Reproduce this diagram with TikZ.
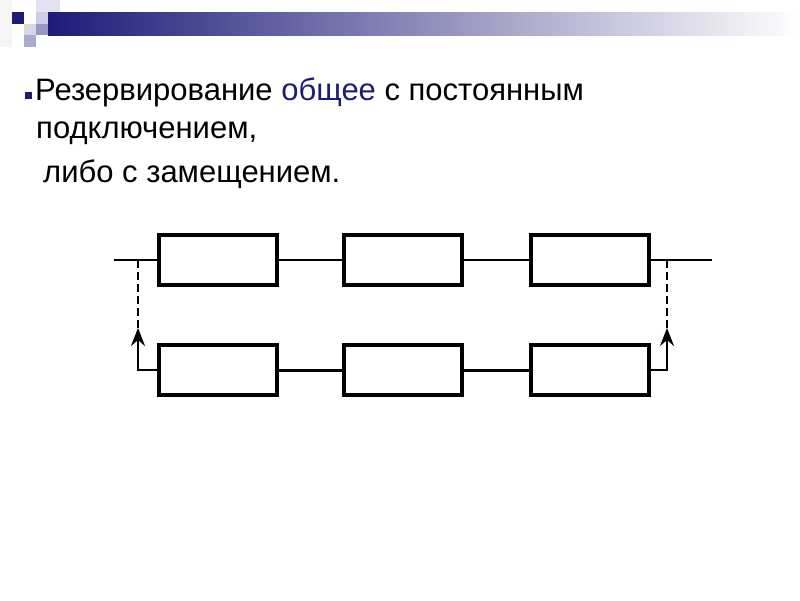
\documentclass[tikz,border=0pt]{standalone}
\usepackage{fontspec}
\setmainfont{Liberation Sans}
\usetikzlibrary{arrows.meta}

\definecolor{navy}{RGB}{28,28,120}
\definecolor{lilac}{RGB}{205,205,228}
\definecolor{lilacdark}{RGB}{150,150,196}

\begin{document}
\begin{tikzpicture}[
	x=1pt, y=-1pt,
	unit/.style={
		draw, line width=3.8pt,
		minimum width=118pt, minimum height=50pt,
		inner sep=0pt
	},
	thin line/.style={line width=1.8pt},
	bold line/.style={line width=3pt},
	back/.style={line width=2.4pt, dash pattern=on 8pt off 4pt},
	arr/.style={-{Stealth[length=18pt, width=14pt, inset=6pt]}, line width=2.2pt},
	txt/.style={anchor=base west, font=\fontsize{31}{36}\selectfont, inner sep=0pt}
]
\useasboundingbox (0,0) rectangle (800,600);

% title bar
\shade[left color=navy, right color=white] (48,12) rectangle (800,35);
\fill[black!4] (0,0) rectangle (12,47);
\fill[navy] (12,12) rectangle (24,24);
\fill[lilac!60] (36,0) rectangle (60,12);
\fill[lilac] (36,12) rectangle (48,24);
\fill[lilac!80] (24,24) rectangle (36,35);
\fill[lilacdark] (36,24) rectangle (48,35);
\fill[lilacdark!80] (24,35) rectangle (36,47);

% text
\fill[navy] (25,92) rectangle (32,99);
\node[txt] (line1) at (35,100) {Резервирование \textcolor{navy}{общее} с постоянным};
\node[txt] (line2) at (36,138) {подключением,};
\node[txt] (line3) at (43,182) {либо с замещением.};

% main chain
\node[unit] (t1) at (218,260) {};
\node[unit] (t2) at (403,260) {};
\node[unit] (t3) at (590,260) {};

% reserve chain
\node[unit] (b1) at (218,370) {};
\node[unit] (b2) at (403,370) {};
\node[unit] (b3) at (590,370) {};

\coordinate (in)   at (114,260);
\coordinate (out)  at (712,260);
\coordinate (tapL) at (138,260);
\coordinate (tapR) at (667,260);
\coordinate (upL)  at (138,328);
\coordinate (upR)  at (667,328);

\draw[thin line] (in) -- (t1.west);
\draw[thin line] (t1) -- (t2);
\draw[thin line] (t2) -- (t3);
\draw[thin line] (t3.east) -- (out);

\draw[bold line] (b1) -- (b2);
\draw[bold line] (b2) -- (b3);

\draw[arr] (b1.west) -| (upL);
\draw[arr] (b3.east) -| (upR);
\draw[back] (upL) -- (tapL);
\draw[back] (upR) -- (tapR);

\end{tikzpicture}
\end{document}
